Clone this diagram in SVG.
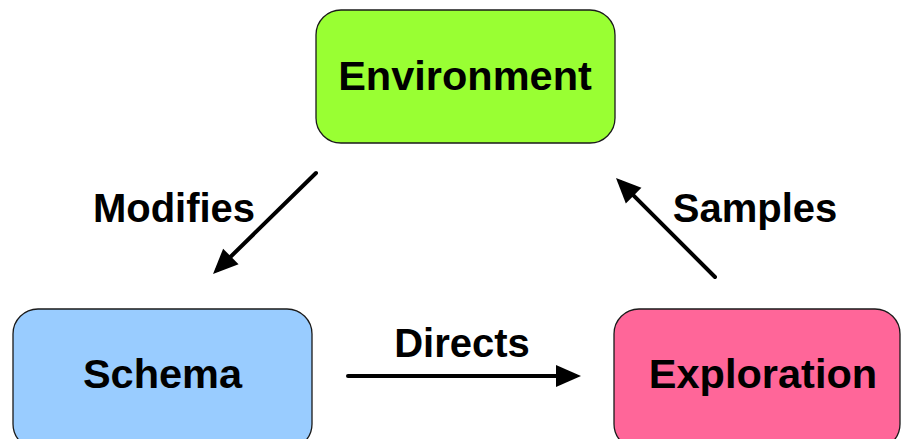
<svg xmlns="http://www.w3.org/2000/svg" width="902" height="439" viewBox="0 0 902 439">
  <defs>
    <!-- filled triangular head; refX sits inside the head so the round line cap stays hidden -->
    <marker id="arrow" markerUnits="userSpaceOnUse" markerWidth="26" markerHeight="24" refX="19" refY="11" orient="auto" overflow="visible">
      <path d="M0,0 L25,11 L0,22 Z" fill="#000"/>
    </marker>
    <style>
      .box { stroke: #1a1a1a; stroke-width: 1.3; }
      .node-text { font-family: "Liberation Sans", Arial, sans-serif; font-weight: bold; font-size: 41.5px; fill: #000; text-anchor: middle; }
      .edge-text { font-family: "Liberation Sans", Arial, sans-serif; font-weight: bold; font-size: 40px; fill: #000; text-anchor: middle; }
      .edge { stroke: #000; stroke-width: 4; stroke-linecap: round; fill: none; marker-end: url(#arrow); }
    </style>
  </defs>
  <rect width="902" height="439" fill="#fff"/>

  <g id="environment">
    <rect class="box" x="316" y="10" width="299" height="133" rx="25" ry="25" fill="#99ff33"/>
    <text class="node-text" x="465" y="90">Environment</text>
  </g>

  <g id="schema">
    <rect class="box" x="13" y="309" width="299" height="140" rx="25" ry="25" fill="#99ccff"/>
    <text class="node-text" x="162.5" y="388">Schema</text>
  </g>

  <g id="exploration">
    <rect class="box" x="614" y="309" width="286" height="140" rx="25" ry="25" fill="#ff6699"/>
    <text class="node-text" x="763" y="388">Exploration</text>
  </g>

  <g id="connectors">
    <line class="edge" x1="316" y1="173" x2="217.3" y2="269.8"/>
    <line class="edge" x1="715" y1="277" x2="620.2" y2="182.2"/>
    <line class="edge" x1="348" y1="376" x2="575" y2="376"/>
    <text class="edge-text" x="174" y="222">Modifies</text>
    <text class="edge-text" x="755" y="222">Samples</text>
    <text class="edge-text" x="462" y="357">Directs</text>
  </g>
</svg>
